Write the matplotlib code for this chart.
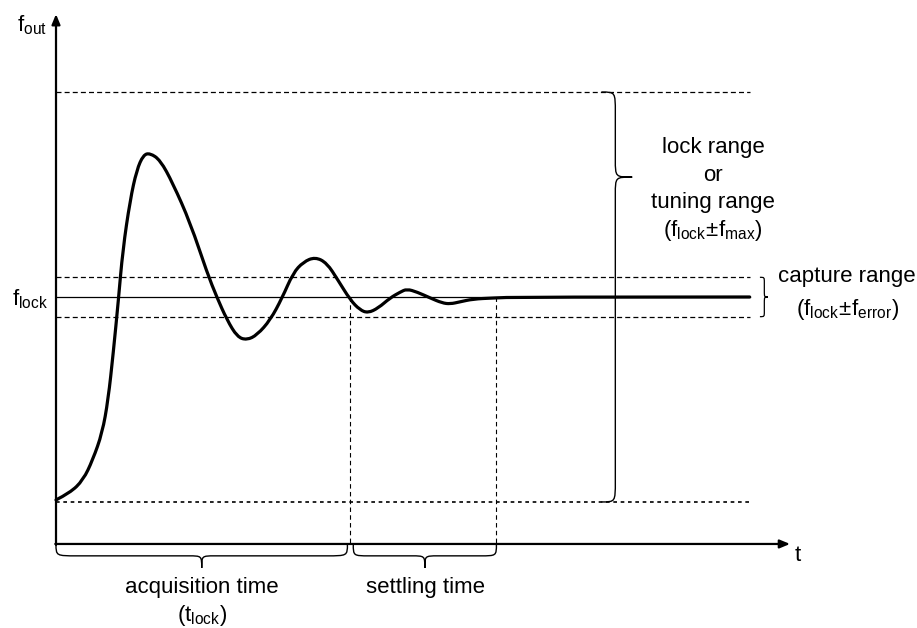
import numpy as np
import matplotlib
matplotlib.use('Agg')
import matplotlib.pyplot as plt
from matplotlib.path import Path
from matplotlib.patches import PathPatch

plt.rcParams['font.family'] = 'Liberation Sans'
plt.rcParams['mathtext.fontset'] = 'custom'
plt.rcParams['mathtext.rm'] = 'Liberation Sans'
plt.rcParams['mathtext.it'] = 'Liberation Sans'

# output frequency response, f relative to f_lock (units of f_max), t in arbitrary units
t_curve = [0.0, 0.19, 0.37, 0.50, 0.63, 0.71, 0.78, 0.85, 0.91, 1.01, 1.10, 1.19,
           1.28, 1.42, 1.59, 1.83, 2.06, 2.19, 2.33, 2.47, 2.60, 2.74, 2.92, 3.08,
           3.23, 3.37, 3.53, 3.69, 3.84, 4.01, 4.14, 4.25, 4.39, 4.55, 4.69, 4.78,
           4.92, 5.10, 5.26, 5.37, 5.50, 5.68, 5.95, 6.32, 9.45]
f_curve = [-0.99, -0.956, -0.893, -0.795, -0.663, -0.502, -0.273, -0.015, 0.229,
           0.473, 0.620, 0.693, 0.702, 0.668, 0.556, 0.361, 0.117, 0.0, -0.112,
           -0.195, -0.210, -0.185, -0.112, -0.005, 0.117, 0.171, 0.195, 0.166,
           0.083, -0.015, -0.063, -0.078, -0.054, -0.005, 0.024, 0.039, 0.024,
           -0.005, -0.029, -0.034, -0.024, -0.010, -0.005, 0.0, 0.0]

f_lock = 0.0
f_max = 1.0
f_error = 0.096
t_acq = 4.0
t_settle = 6.0
t_end = 9.45

fig = plt.figure(figsize=(9.17, 6.28), dpi=100)
ax = fig.add_axes([0, 0, 1, 1])
ax.set_xlim(-0.763, 11.73)
ax.set_ylim(-1.615, 1.449)
ax.axis('off')

# axes with arrows
y_axis = -1.205
ax.annotate('', xy=(10.0, y_axis), xytext=(-0.01, y_axis),
            arrowprops=dict(arrowstyle='-|>,head_length=0.6,head_width=0.25', lw=1.6, color='black',
                            shrinkA=0, shrinkB=0))
ax.annotate('', xy=(0, 1.38), xytext=(0, y_axis - 0.005),
            arrowprops=dict(arrowstyle='-|>,head_length=0.6,head_width=0.25', lw=1.6, color='black',
                            shrinkA=0, shrinkB=0))

# range lines
ax.plot([0, t_end], [f_max, f_max], color='black', lw=0.9, dashes=(4, 2.5))
ax.plot([0, t_end], [-f_max, -f_max], color='black', lw=1.2, dashes=(2.2, 2.2))
ax.plot([0, t_end], [f_error, f_error], color='black', lw=0.9, dashes=(4, 2.5))
ax.plot([0, t_end], [-f_error, -f_error], color='black', lw=0.9, dashes=(4, 2.5))
ax.plot([0, t_end], [f_lock, f_lock], color='black', lw=0.9)

# time markers
for tm in [t_acq, t_settle]:
    ax.plot([tm, tm], [f_lock, y_axis], color='black', lw=0.8, dashes=(4, 3))

# smooth curve: read points used as quadratic control points
pts = list(zip(t_curve, f_curve))
verts = [pts[0]]
codes = [Path.MOVETO]
for i in range(1, len(pts) - 1):
    nxt = pts[i + 1]
    mid = ((pts[i][0] + nxt[0]) / 2, (pts[i][1] + nxt[1]) / 2)
    if i == len(pts) - 2:
        mid = nxt
    verts += [pts[i], mid]
    codes += [Path.CURVE3, Path.CURVE3]
ax.add_patch(PathPatch(Path(verts, codes), fill=False, lw=2.3, color='black',
                       capstyle='round', joinstyle='round'))


def vbrace(x_b, x_e, x_t, y_top, y_bot, y_tip, r, rt, lw=1.0):
    verts = [(x_e, y_top), (x_b, y_top), (x_b, y_top), (x_b, y_top - r),
             (x_b, y_tip + rt),
             (x_b, y_tip), (x_b, y_tip), (x_t, y_tip),
             (x_b, y_tip), (x_b, y_tip), (x_b, y_tip - rt),
             (x_b, y_bot + r),
             (x_b, y_bot), (x_b, y_bot), (x_e, y_bot)]
    codes = [Path.MOVETO, Path.CURVE4, Path.CURVE4, Path.CURVE4, Path.LINETO,
             Path.CURVE4, Path.CURVE4, Path.CURVE4,
             Path.CURVE4, Path.CURVE4, Path.CURVE4, Path.LINETO,
             Path.CURVE4, Path.CURVE4, Path.CURVE4]
    ax.add_patch(PathPatch(Path(verts, codes), fill=False, lw=lw, color='black'))


def hbrace(x0, x1, y_e, y_b, y_t, r, rt, lw=1.0):
    xm = (x0 + x1) / 2
    verts = [(x0, y_e), (x0, y_b), (x0, y_b), (x0 + r, y_b),
             (xm - rt, y_b),
             (xm, y_b), (xm, y_b), (xm, y_t),
             (xm, y_b), (xm, y_b), (xm + rt, y_b),
             (x1 - r, y_b),
             (x1, y_b), (x1, y_b), (x1, y_e)]
    codes = [Path.MOVETO, Path.CURVE4, Path.CURVE4, Path.CURVE4, Path.LINETO,
             Path.CURVE4, Path.CURVE4, Path.CURVE4,
             Path.CURVE4, Path.CURVE4, Path.CURVE4, Path.LINETO,
             Path.CURVE4, Path.CURVE4, Path.CURVE4]
    ax.add_patch(PathPatch(Path(verts, codes), fill=False, lw=lw, color='black'))


vbrace(7.62, 7.43, 7.85, f_max, -f_max, 0.585, 0.1, 0.085)
vbrace(9.65, 9.59, 9.70, f_error, -f_error, f_lock, 0.025, 0.03, lw=0.9)
hbrace(0.0, 3.97, y_axis, -1.263, -1.322, 0.29, 0.18)
hbrace(4.05, 6.0, y_axis, -1.263, -1.322, 0.22, 0.18)

fs = 16
ax.text(-0.53, 1.325, r'$\mathrm{f_{out}}$', fontsize=fs, ha='left', va='center')
ax.text(-0.60, -0.01, r'$\mathrm{f_{lock}}$', fontsize=fs, ha='left', va='center')
ax.text(10.1, -1.26, 't', fontsize=fs, ha='center', va='center')

ax.text(8.95, 0.73, 'lock range', fontsize=fs, ha='center', va='center')
ax.text(8.95, 0.595, 'or', fontsize=fs, ha='center', va='center')
ax.text(8.95, 0.463, 'tuning range', fontsize=fs, ha='center', va='center')
ax.text(8.95, 0.325, r'$\mathrm{(f_{lock}\!\pm\! f_{max})}$', fontsize=fs, ha='center', va='center')

ax.text(10.78, 0.098, 'capture range', fontsize=fs, ha='center', va='center')
ax.text(10.78, -0.06, r'$\mathrm{(f_{lock}\!\pm\! f_{error})}$', fontsize=fs, ha='center', va='center')

ax.text(1.99, -1.415, 'acquisition time', fontsize=fs, ha='center', va='center')
ax.text(1.99, -1.555, r'$\mathrm{(t_{lock})}$', fontsize=fs, ha='center', va='center')
ax.text(5.03, -1.415, 'settling time', fontsize=fs, ha='center', va='center')

fig.savefig('out.png', dpi=100, facecolor='white')
